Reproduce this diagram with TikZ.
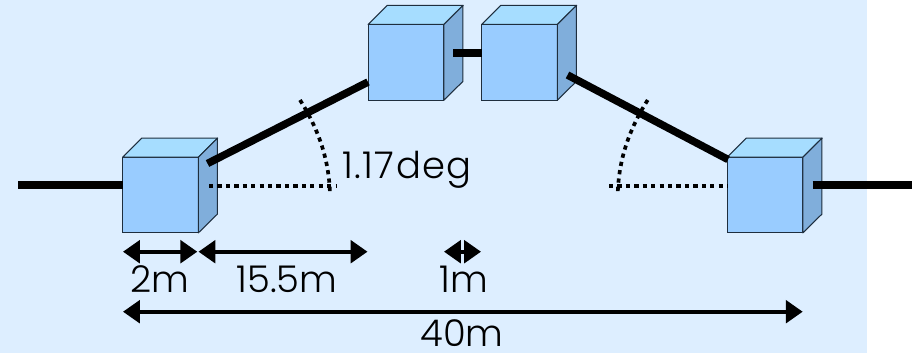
\documentclass[tikz,border=0pt]{standalone}
\usepackage{fontspec}
\setmainfont{Poppins Light}
\usetikzlibrary{arrows.meta}
\definecolor{panelbg}{HTML}{DDEEFF}
\definecolor{cubefront}{HTML}{99CCFF}
\definecolor{cubetop}{HTML}{A6DDFF}
\definecolor{cubeside}{HTML}{80AEDB}
\definecolor{cubeedge}{HTML}{1E2E3E}
\tikzset{
  cube/.style={draw=cubeedge, fill=cubefront, line width=0.6pt, minimum size=43.1pt, inner sep=0pt, outer sep=0pt},
  facet/.style={draw=cubeedge, line width=0.6pt, line join=round},
  wire/.style={line width=4.3pt},
  guide/.style={line width=2.1pt, dash pattern=on 2.4pt off 2.4pt},
  dim/.style={line width=2.2pt, {Triangle[length=9.6pt,width=12.8pt]}-{Triangle[length=9.6pt,width=12.8pt]}},
  lbl/.style={anchor=base, font=\fontsize{21}{21}\selectfont, inner sep=0pt},
}
\begin{document}
\begin{tikzpicture}[x=0.02cm,y=-0.02cm]
  \useasboundingbox (0,0) rectangle (912,353);
  \fill[panelbg] (0,0) rectangle (866.7,352.5);

  \foreach \name/\px/\py in {cubeA/160.5/195, cubeB/406/62.3, cubeC/519.5/62.3, cubeD/765/195} {
    \node[cube] (\name) at (\px,\py) {};
    \draw[facet, fill=cubetop] (\name.north west) -- ++(19,-19) -- ++(76,0) -- (\name.north east) -- cycle;
    \draw[facet, fill=cubeside] (\name.north east) -- ++(19,-19) -- ++(0,76) -- (\name.south east) -- cycle;
  }

  \coordinate (wireL) at (18,185);
  \coordinate (wireR) at (912,185);
  \coordinate (slopeA) at (207.5,163.5);
  \coordinate (slopeB) at (368,82);
  \coordinate (slopeC) at (567.5,75);
  \coordinate (slopeD) at (728,159.5);
  \coordinate (linkB) at (453,53);

  \draw[wire] (wireL) -- (wireL -| cubeA.west);
  \draw[wire] (slopeA) -- (slopeB);
  \draw[wire] (linkB) -- (linkB -| cubeC.west);
  \draw[wire] (slopeC) -- (slopeD);
  \draw[wire] (812.5,185) -- (wireR);

  \draw[guide] (209,186) -- (337,186);
  \draw[guide] (300,100) .. controls (319,130) and (329,160) .. (330,194);
  \draw[guide] (609,186) -- (cubeD.west |- 0,186);
  \draw[guide] (647.7,100) .. controls (628.7,130) and (618.7,160) .. (617.7,194);

  \draw[dim] (123,251.7) -- (197.3,251.7);
  \draw[dim] (198.5,251.7) -- (367.5,251.7);
  \draw[dim] (444,251.7) -- (481,251.7);
  \draw[dim] (123,311.7) -- (802.7,311.7);

  \node[lbl] (angleL) at (407,178) {\addfontfeature{LetterSpace=4}1.17deg};
  \node[lbl] (sizeL) at (159.5,292) {2m};
  \node[lbl] (spanL) at (287,292) {15.5m};
  \node[lbl] (gapL) at (464,292) {1m};
  \node[lbl] (totalL) at (462,346) {40m};
\end{tikzpicture}
\end{document}
